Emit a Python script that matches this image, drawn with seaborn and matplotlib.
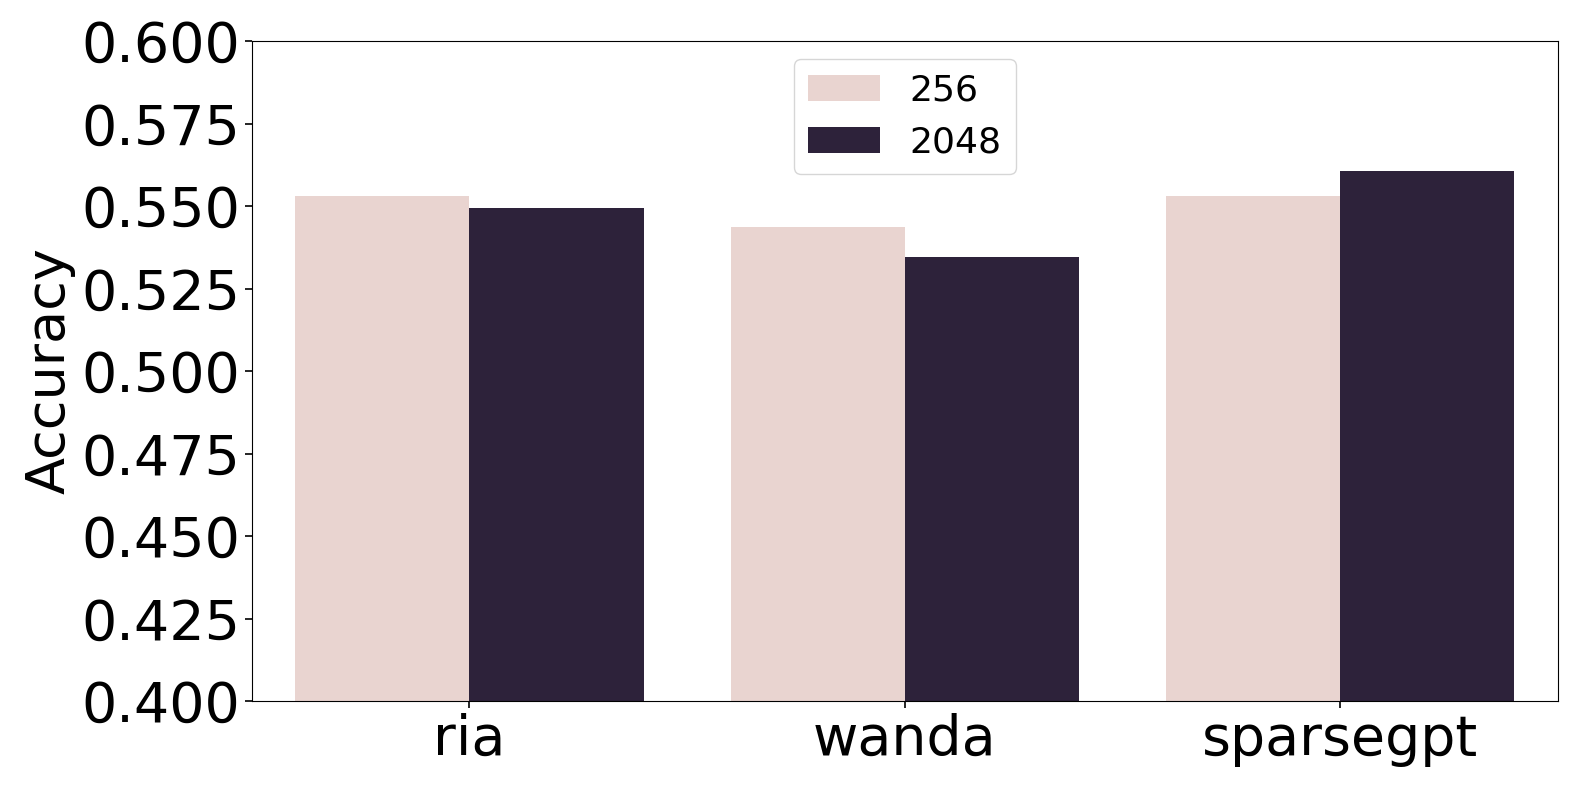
import pandas as pd
import matplotlib
matplotlib.use("Agg")
import matplotlib.pyplot as plt
import seaborn as sns

methods = ["ria", "wanda", "sparsegpt"]
sizes = ["256", "2048"]
acc_256 = [0.5531, 0.5437, 0.5530]
acc_2048 = [0.5493, 0.5346, 0.5607]

df = pd.DataFrame({
    "method": methods * 2,
    "nsamples": [sizes[0]] * 3 + [sizes[1]] * 3,
    "Accuracy": acc_256 + acc_2048,
})

# same colours seaborn gives a numeric hue (ch: cubehelix ends)
cmap = sns.color_palette("ch:", as_cmap=True)
palette = [cmap(0.0), cmap(1.0)]

fig = plt.figure(figsize=(15.78, 7.89), dpi=100)
ax = fig.add_axes([0.1595, 0.1115, 0.8278, 0.8365])

sns.barplot(data=df, x="method", y="Accuracy", hue="nsamples",
            palette=palette, ax=ax)

ax.set_ylim(0.4, 0.6)
ax.set_xlabel("")
ax.set_ylabel("Accuracy", fontsize=39)
ax.tick_params(axis="both", labelsize=40, length=5, width=1.2)
ax.set_yticks([0.400, 0.425, 0.450, 0.475, 0.500, 0.525, 0.550, 0.575, 0.600])
ax.set_yticklabels([f"{v:.3f}" for v in ax.get_yticks()])
ax.legend(loc="upper center", fontsize=26, title=None)

fig.savefig("out.png", dpi=100)
